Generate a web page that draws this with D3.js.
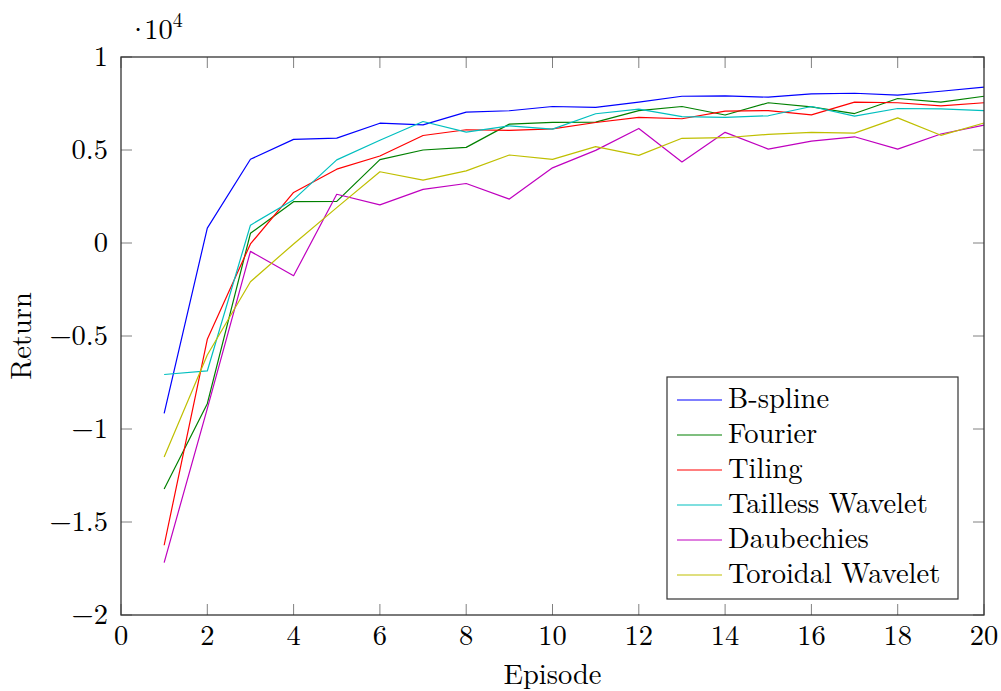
<!DOCTYPE html>
<html>
<head>
<meta charset="utf-8">
<script src="https://cdn.jsdelivr.net/npm/d3@7"></script>
<style>
  body { margin: 0; background: #fff; }
</style>
</head>
<body>
<svg id="chart"></svg>
<script>
// data (Return, raw units)
const episodes = [1,2,3,4,5,6,7,8,9,10,11,12,13,14,15,16,17,18,19,20];
const bspline  = [-9160, 800, 4500, 5570, 5640, 6440, 6350, 7040, 7110, 7340, 7290, 7570, 7890, 7910, 7840, 8020, 8050, 7950, 8160, 8380];
const fourier  = [-13230, -8640, 520, 2220, 2240, 4480, 5000, 5140, 6390, 6480, 6500, 7120, 7340, 6880, 7540, 7320, 6960, 7770, 7570, 7890];
const tiling   = [-16250, -5180, -50, 2720, 3970, 4680, 5780, 6090, 6050, 6140, 6480, 6750, 6680, 7090, 7120, 6890, 7570, 7540, 7370, 7540];
const tailless = [-7070, -6880, 960, 2330, 4470, 5520, 6530, 5960, 6300, 6120, 6950, 7200, 6790, 6750, 6840, 7340, 6820, 7230, 7210, 7120];
const daubech  = [-17180, -8900, -450, -1760, 2620, 2050, 2880, 3200, 2360, 4040, 4980, 6160, 4360, 5950, 5050, 5480, 5710, 5050, 5860, 6340];
const toroidal = [-11500, -6020, -2080, -50, 1900, 3830, 3380, 3880, 4730, 4500, 5180, 4710, 5630, 5660, 5840, 5950, 5910, 6730, 5790, 6450];

const seriesNames = ["B-spline", "Fourier", "Tiling", "Tailless Wavelet", "Daubechies", "Toroidal Wavelet"];
const seriesValues = [bspline, fourier, tiling, tailless, daubech, toroidal];
const seriesColors = ["#0000ff", "#008000", "#ff0000", "#00bfbf", "#bf00bf", "#bfbf00"];

const xTicks = [0,2,4,6,8,10,12,14,16,18,20];
const yTicks = [1, 0.5, 0, -0.5, -1, -1.5, -2];

const width = 1001, height = 691;
const margin = {top: 57, right: 17, bottom: 76, left: 121};
const innerW = width - margin.left - margin.right;
const innerH = height - margin.top - margin.bottom;
const fs = "28.5px";

const svg = d3.select("#chart").attr("width", width).attr("height", height)
  .style("font-family", '"Latin Modern Roman", "Liberation Serif", serif');
const chart = svg.append("g").attr("transform", `translate(${margin.left},${margin.top})`);

const xscale = d3.scaleLinear().domain([0, 20]).range([0, innerW]);
const yscale = d3.scaleLinear().domain([-2, 1]).range([innerH, 0]); // in units of 10^4

const fmt = v => (v < 0 ? "\u2212" + Math.abs(v) : String(v));
const tickLen = 11;

// ticks, pointing inward on all four sides
const tickG = chart.append("g").attr("stroke", "#808080").attr("stroke-width", 1);
xTicks.forEach(t => {
  const x = xscale(t);
  tickG.append("line").attr("x1", x).attr("x2", x).attr("y1", innerH).attr("y2", innerH - tickLen);
  tickG.append("line").attr("x1", x).attr("x2", x).attr("y1", 0).attr("y2", tickLen);
});
yTicks.forEach(t => {
  const y = yscale(t);
  tickG.append("line").attr("x1", 0).attr("x2", tickLen).attr("y1", y).attr("y2", y);
  tickG.append("line").attr("x1", innerW).attr("x2", innerW - tickLen).attr("y1", y).attr("y2", y);
});

// tick labels
chart.append("g").selectAll("text").data(xTicks).join("text")
  .attr("x", d => xscale(d)).attr("y", innerH + 30)
  .attr("text-anchor", "middle").style("font-size", fs)
  .text(d => d);
chart.append("g").selectAll("text").data(yTicks).join("text")
  .attr("x", -13).attr("y", d => yscale(d) + 9)
  .attr("text-anchor", "end").style("font-size", fs)
  .text(d => fmt(d));

// series
const line = d3.line().x((d, i) => xscale(episodes[i])).y(d => yscale(d / 10000));
const plot = chart.append("g");
seriesValues.forEach((vals, k) => {
  plot.append("path").datum(vals)
    .attr("fill", "none").attr("stroke", seriesColors[k]).attr("stroke-width", 1.2)
    .attr("stroke-linejoin", "round")
    .attr("d", line);
});

// frame
chart.append("rect").attr("x", 0).attr("y", 0).attr("width", innerW).attr("height", innerH)
  .attr("fill", "none").attr("stroke", "#333").attr("stroke-width", 1.3);

// scale note
const note = svg.append("text").attr("x", 127).attr("y", 39).style("font-size", fs);
note.append("tspan").text("\u00b7");
note.append("tspan").attr("dx", -5).text("10");
note.append("tspan").style("font-size", "20px").attr("dy", -12).text("4");

// axis labels
svg.append("text").attr("x", margin.left + innerW / 2).attr("y", 684)
  .attr("text-anchor", "middle").style("font-size", fs).text("Episode");
svg.append("text").attr("transform", `translate(31, ${margin.top + innerH / 2}) rotate(-90)`)
  .attr("text-anchor", "middle").style("font-size", fs).text("Return");

// legend
const lg = svg.append("g").attr("transform", "translate(667,377)");
lg.append("rect").attr("width", 291).attr("height", 222)
  .attr("fill", "#fff").attr("stroke", "#333").attr("stroke-width", 1.2);
seriesNames.forEach((name, k) => {
  const y = 23 + k * 35;
  lg.append("line").attr("x1", 10).attr("x2", 55).attr("y1", y).attr("y2", y)
    .attr("stroke", seriesColors[k]).attr("stroke-width", 1.2);
  lg.append("text").attr("x", 61).attr("y", y + 8).style("font-size", fs).text(name);
});
</script>
</body>
</html>
